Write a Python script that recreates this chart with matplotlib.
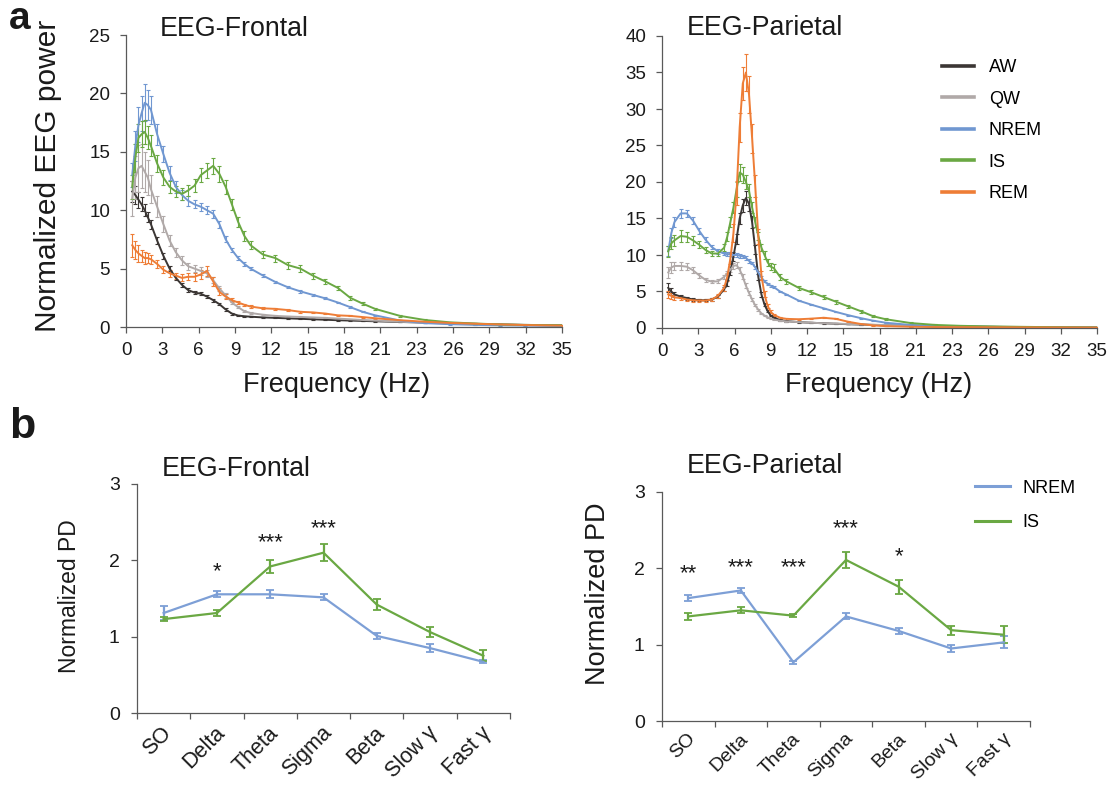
import numpy as np
import matplotlib
matplotlib.use("Agg")
import matplotlib.pyplot as plt
from matplotlib.lines import Line2D

plt.rcParams['font.family'] = ['Liberation Sans', 'DejaVu Sans']

# ---- panel a : normalized EEG power spectra ----
states = ['AW', 'QW', 'NREM', 'IS', 'REM']
state_colors = ['#3b3634', '#b0a9a8', '#7097d1', '#6aa843', '#ee7d36']
freq_tick_labels = ['0', '3', '6', '9', '12', '15', '18', '21', '23', '26', '29', '32', '35']

freq_frontal = [0.5, 0.75, 1, 1.25, 1.5, 1.75, 2,
                2.5, 3, 3.5, 4, 4.5, 5, 5.5, 6, 6.5, 7, 7.5, 8, 8.5, 9, 9.5, 10,
                11, 12, 13, 14, 15, 16, 17, 18, 19, 20,
                22, 24, 26, 28, 30, 32, 35]

frontal_aw = [11.6, 11.3, 10.9, 10.5, 10.0, 9.4, 8.8,
              7.4, 6.1, 5.0, 4.2, 3.6, 3.15, 2.95, 2.85, 2.6, 2.3, 1.95, 1.5, 1.15, 0.98, 0.92, 0.88,
              0.82, 0.78, 0.74, 0.7, 0.66, 0.62, 0.58, 0.55, 0.52, 0.49,
              0.43, 0.38, 0.32, 0.27, 0.22, 0.18, 0.14]
frontal_aw_err = [0.9, 0.8, 0.7, 0.6, 0.5, 0.45, 0.4,
                  0.3, 0.25, 0.2, 0.2, 0.15, 0.15, 0.15, 0.15, 0.15, 0.12, 0.1, 0.1, 0.08, 0.06, 0.06, 0.05,
                  0.05, 0.05, 0.05, 0.05, 0.04, 0.04, 0.04, 0.04, 0.03, 0.03,
                  0.03, 0.03, 0.02, 0.02, 0.02, 0.02, 0.02]

frontal_qw = [11.0, 12.8, 13.6, 13.8, 13.3, 12.8, 11.8,
              10.3, 8.8, 7.4, 6.4, 5.7, 5.2, 5.0, 4.8, 4.6, 4.0, 3.3, 2.7, 2.1, 1.7, 1.35, 1.2,
              1.05, 0.95, 0.9, 0.86, 0.82, 0.78, 0.72, 0.66, 0.6, 0.55,
              0.45, 0.36, 0.3, 0.24, 0.2, 0.16, 0.12]
frontal_qw_err = [1.5, 1.8, 2.0, 1.9, 1.7, 1.5, 1.2,
                  0.9, 0.7, 0.5, 0.4, 0.35, 0.3, 0.3, 0.35, 0.3, 0.25, 0.2, 0.2, 0.15, 0.1, 0.1, 0.08,
                  0.06, 0.05, 0.05, 0.05, 0.05, 0.04, 0.04, 0.04, 0.03, 0.03,
                  0.03, 0.03, 0.02, 0.02, 0.02, 0.02, 0.02]

frontal_nrem = [13.0, 15.5, 17.3, 18.3, 19.2, 19.0, 18.6,
                16.5, 14.8, 13.2, 12.0, 11.3, 10.8, 10.5, 10.3, 10.0, 9.7, 8.8, 7.5, 6.6, 5.9, 5.4, 5.0,
                4.4, 3.85, 3.4, 3.05, 2.75, 2.45, 2.1, 1.7, 1.3, 1.0,
                0.55, 0.33, 0.24, 0.18, 0.14, 0.12, 0.1]
frontal_nrem_err = [1.0, 1.3, 1.5, 1.5, 1.6, 1.3, 1.2,
                    0.9, 0.7, 0.6, 0.5, 0.45, 0.4, 0.35, 0.35, 0.35, 0.35, 0.3, 0.25, 0.2, 0.2, 0.15, 0.15,
                    0.12, 0.1, 0.1, 0.1, 0.08, 0.08, 0.07, 0.06, 0.05, 0.05,
                    0.04, 0.03, 0.03, 0.02, 0.02, 0.02, 0.02]

frontal_is = [12.0, 14.5, 16.2, 16.5, 16.7, 16.2, 15.5,
              14.0, 12.8, 12.0, 11.6, 11.4, 11.7, 12.1, 13.0, 13.4, 13.8, 13.1, 12.0, 10.5, 9.0, 7.8, 7.0,
              6.2, 5.9, 5.3, 5.0, 4.4, 3.9, 3.35, 2.5, 2.0, 1.55,
              0.95, 0.6, 0.4, 0.3, 0.22, 0.18, 0.15]
frontal_is_err = [1.0, 1.2, 1.2, 1.1, 1.0, 1.0, 0.9,
                  0.7, 0.6, 0.5, 0.5, 0.5, 0.5, 0.55, 0.6, 0.65, 0.7, 0.65, 0.6, 0.5, 0.45, 0.4, 0.35,
                  0.3, 0.3, 0.3, 0.3, 0.25, 0.2, 0.2, 0.15, 0.12, 0.1,
                  0.08, 0.06, 0.05, 0.04, 0.03, 0.03, 0.02]

frontal_rem = [7.0, 6.6, 6.3, 6.1, 5.9, 5.9, 5.8,
               5.4, 4.9, 4.6, 4.4, 4.2, 4.3, 4.3, 4.5, 4.8, 3.9, 3.0, 2.6, 2.3, 2.1, 1.9, 1.75,
               1.6, 1.55, 1.45, 1.3, 1.25, 1.15, 1.0, 0.95, 0.85, 0.75,
               0.58, 0.45, 0.35, 0.28, 0.22, 0.17, 0.12]
frontal_rem_err = [1.0, 0.8, 0.7, 0.5, 0.5, 0.4, 0.4,
                   0.35, 0.3, 0.3, 0.25, 0.3, 0.3, 0.35, 0.4, 0.45, 0.35, 0.3, 0.2, 0.15, 0.12, 0.1, 0.1,
                   0.08, 0.08, 0.07, 0.06, 0.06, 0.05, 0.05, 0.04, 0.04, 0.04,
                   0.03, 0.03, 0.02, 0.02, 0.02, 0.02, 0.02]

freq_parietal = [0.5, 0.75, 1, 1.5, 2, 2.5, 3, 3.5, 4, 4.5, 5,
                 5.25, 5.5, 5.75, 6, 6.25, 6.5, 6.75, 7, 7.25, 7.5, 7.75, 8, 8.25, 8.5, 8.75, 9,
                 9.5, 10, 11, 12, 13, 14, 15, 16, 17, 18, 20, 22, 24, 26, 28, 30, 32, 35]

parietal_aw = [5.5, 5.0, 4.6, 4.3, 4.1, 3.9, 3.8, 3.8, 3.9, 4.3, 5.3,
               6.2, 7.8, 9.8, 12.2, 15.0, 16.8, 17.8, 17.0, 14.5, 10.8, 7.0, 4.6, 3.2, 2.3, 1.7, 1.4,
               1.1, 0.95, 0.8, 0.72, 0.65, 0.58, 0.52, 0.47, 0.42, 0.38, 0.3, 0.24, 0.2, 0.16, 0.13, 0.11, 0.09, 0.07]
parietal_aw_err = [0.6, 0.5, 0.3, 0.2, 0.2, 0.15, 0.15, 0.15, 0.15, 0.2, 0.3,
                   0.4, 0.5, 0.6, 0.7, 0.8, 0.9, 1.0, 1.0, 0.8, 0.6, 0.4, 0.3, 0.2, 0.15, 0.12, 0.1,
                   0.08, 0.06, 0.05, 0.05, 0.04, 0.04, 0.03, 0.03, 0.03, 0.03, 0.02, 0.02, 0.02, 0.02, 0.02, 0.01, 0.01, 0.01]

parietal_qw = [7.6, 8.3, 8.5, 8.5, 8.4, 7.9, 7.2, 6.6, 6.35, 6.4, 7.0,
               7.5, 8.0, 8.5, 8.6, 8.0, 7.0, 5.8, 4.8, 3.9, 3.1, 2.5, 2.0, 1.7, 1.45, 1.3, 1.15,
               1.0, 0.9, 0.8, 0.72, 0.65, 0.6, 0.55, 0.5, 0.45, 0.4, 0.33, 0.27, 0.22, 0.18, 0.15, 0.12, 0.1, 0.08]
parietal_qw_err = [0.8, 0.7, 0.6, 0.5, 0.45, 0.4, 0.3, 0.25, 0.25, 0.25, 0.3,
                   0.3, 0.35, 0.4, 0.4, 0.4, 0.35, 0.3, 0.25, 0.2, 0.15, 0.12, 0.1, 0.08, 0.08, 0.06, 0.06,
                   0.05, 0.05, 0.04, 0.04, 0.03, 0.03, 0.03, 0.03, 0.02, 0.02, 0.02, 0.02, 0.02, 0.01, 0.01, 0.01, 0.01, 0.01]

parietal_nrem = [10.5, 13.0, 14.5, 15.7, 15.7, 14.7, 13.3, 12.1, 11.1, 10.5, 10.2,
                 10.1, 10.1, 10.0, 10.0, 9.9, 9.8, 9.6, 9.2, 8.9, 8.3, 7.6, 6.9, 6.4, 6.0, 5.8, 5.6,
                 5.0, 4.6, 3.75, 3.2, 2.7, 2.2, 1.75, 1.35, 1.0, 0.72, 0.42, 0.27, 0.2, 0.16, 0.13, 0.11, 0.09, 0.07]
parietal_nrem_err = [0.7, 0.7, 0.7, 0.6, 0.5, 0.45, 0.4, 0.35, 0.3, 0.3, 0.25,
                     0.25, 0.25, 0.25, 0.25, 0.25, 0.25, 0.25, 0.25, 0.2, 0.2, 0.2, 0.2, 0.15, 0.15, 0.15, 0.15,
                     0.12, 0.1, 0.1, 0.08, 0.08, 0.06, 0.05, 0.05, 0.04, 0.03, 0.02, 0.02, 0.02, 0.01, 0.01, 0.01, 0.01, 0.01]

parietal_is = [10.5, 11.6, 12.0, 12.6, 12.5, 12.0, 11.4, 10.7, 10.2, 10.2, 11.0,
               12.5, 14.5, 16.5, 19.0, 21.3, 21.0, 20.0, 18.8, 16.5, 14.5, 12.6, 11.0, 10.0, 9.0, 8.4, 8.2,
               7.0, 6.4, 5.5, 4.9, 4.25, 3.6, 2.95, 2.3, 1.6, 1.2, 0.68, 0.42, 0.3, 0.23, 0.18, 0.14, 0.11, 0.08]
parietal_is_err = [0.8, 0.8, 0.8, 0.8, 0.7, 0.6, 0.5, 0.45, 0.4, 0.4, 0.5,
                   0.6, 0.7, 0.8, 1.0, 1.2, 1.1, 1.0, 0.9, 0.8, 0.7, 0.6, 0.5, 0.5, 0.5, 0.5, 0.5,
                   0.4, 0.35, 0.3, 0.3, 0.25, 0.25, 0.2, 0.2, 0.15, 0.12, 0.1, 0.06, 0.04, 0.03, 0.02, 0.02, 0.02, 0.01]

parietal_rem = [4.6, 4.4, 4.2, 4.1, 3.9, 3.8, 3.75, 3.75, 3.9, 4.4, 5.5,
                7.0, 9.5, 13.0, 18.5, 27.5, 33.5, 35.0, 32.0, 26.0, 19.5, 12.5, 7.2, 4.6, 3.0, 2.2, 1.8,
                1.4, 1.25, 1.2, 1.28, 1.4, 1.25, 0.85, 0.55, 0.35, 0.25, 0.17, 0.13, 0.11, 0.1, 0.09, 0.08, 0.07, 0.06]
parietal_rem_err = [0.5, 0.4, 0.3, 0.2, 0.2, 0.2, 0.2, 0.2, 0.2, 0.3, 0.4,
                    0.6, 0.8, 1.2, 1.6, 2.0, 2.3, 2.6, 2.5, 2.0, 1.5, 1.0, 0.6, 0.4, 0.3, 0.2, 0.15,
                    0.1, 0.1, 0.08, 0.08, 0.08, 0.06, 0.05, 0.04, 0.03, 0.02, 0.02, 0.01, 0.01, 0.01, 0.01, 0.01, 0.01, 0.01]

# ---- panel b : normalized power density per band ----
bands = ['SO', 'Delta', 'Theta', 'Sigma', 'Beta', 'Slow γ', 'Fast γ']
pd_frontal_nrem = [1.31, 1.555, 1.555, 1.515, 1.01, 0.85, 0.67]
pd_frontal_nrem_err = [0.09, 0.04, 0.05, 0.04, 0.04, 0.05, 0.02]
pd_frontal_is = [1.23, 1.31, 1.92, 2.10, 1.42, 1.06, 0.75]
pd_frontal_is_err = [0.03, 0.04, 0.08, 0.11, 0.07, 0.07, 0.07]
frontal_stars = ['', '*', '***', '***', '', '', '']
frontal_star_y = [0, 1.78, 2.16, 2.34, 0, 0, 0]

pd_parietal_nrem = [1.61, 1.71, 0.77, 1.37, 1.18, 0.95, 1.03]
pd_parietal_nrem_err = [0.04, 0.03, 0.02, 0.04, 0.04, 0.05, 0.08]
pd_parietal_is = [1.37, 1.45, 1.38, 2.11, 1.76, 1.19, 1.13]
pd_parietal_is_err = [0.05, 0.04, 0.02, 0.10, 0.09, 0.06, 0.11]
parietal_stars = ['**', '***', '***', '***', '*', '', '']
parietal_star_y = [1.86, 1.94, 1.94, 2.45, 2.08, 0, 0]

W, H = 1112, 786
def fx(px):
    return px / W
def fy(py):
    return 1 - py / H

spine_col = '#595959'
txt_col = '#1a1a1a'

fig = plt.figure(figsize=(W / 100, H / 100), dpi=100)

def style_axes(ax):
    for s in ['top', 'right']:
        ax.spines[s].set_visible(False)
    for s in ['left', 'bottom']:
        ax.spines[s].set_color(spine_col)
        ax.spines[s].set_linewidth(0.9)
    ax.tick_params(which='major', direction='out', color=spine_col, width=0.9, length=4.5,
                   labelsize=13.5, labelcolor=txt_col)
    ax.tick_params(axis='y', pad=7)
    ax.tick_params(axis='x', pad=6)

ax_tl = fig.add_axes([fx(126), fy(327), fx(562) - fx(126), (327 - 35) / H])
ax_tr = fig.add_axes([fx(662), fy(328), fx(1097) - fx(662), (328 - 36) / H])
ax_bl = fig.add_axes([fx(137), fy(713), fx(510) - fx(137), (713 - 484) / H])
ax_br = fig.add_axes([fx(662), fy(721), fx(1030) - fx(662), (721 - 492) / H])

frontal_series = [(frontal_aw, frontal_aw_err), (frontal_qw, frontal_qw_err),
                  (frontal_nrem, frontal_nrem_err), (frontal_is, frontal_is_err),
                  (frontal_rem, frontal_rem_err)]
parietal_series = [(parietal_aw, parietal_aw_err), (parietal_qw, parietal_qw_err),
                   (parietal_nrem, parietal_nrem_err), (parietal_is, parietal_is_err),
                   (parietal_rem, parietal_rem_err)]

for ax, freq, series, ymax in [(ax_tl, freq_frontal, frontal_series, 25),
                               (ax_tr, freq_parietal, parietal_series, 40)]:
    for (vals, errs), c in zip(series, state_colors):
        ax.errorbar(freq, vals, yerr=errs, color=c, lw=1.4, elinewidth=0.8,
                    capsize=1.6, capthick=0.8)
    ax.set_xlim(0, 35)
    ax.set_ylim(0, ymax)
    ax.set_xticks(np.linspace(0, 35, len(freq_tick_labels)))
    ax.set_xticklabels(freq_tick_labels)
    ax.set_yticks(np.arange(0, ymax + 1, 5))
    style_axes(ax)

handles = [Line2D([], [], color=c, lw=2.6) for c in state_colors]
ax_tr.legend(handles, states, loc='upper left', bbox_to_anchor=(0.644, 0.92),
             frameon=False, fontsize=13, handlelength=1.75, handletextpad=0.83,
             labelspacing=0.8, borderpad=0, borderaxespad=0)

nrem_col_b = '#7d9fd6'
is_col_b = '#6aa843'
panel_b = [(ax_bl, pd_frontal_nrem, pd_frontal_nrem_err, pd_frontal_is, pd_frontal_is_err,
            frontal_stars, frontal_star_y, 15.5, 17),
           (ax_br, pd_parietal_nrem, pd_parietal_nrem_err, pd_parietal_is, pd_parietal_is_err,
            parietal_stars, parietal_star_y, 14, 15)]
for ax, nrem, nrem_e, is_, is_e, stars, star_y, lab_fs, lab_off in panel_b:
    x = np.arange(len(bands))
    ax.errorbar(x, nrem, yerr=nrem_e, color=nrem_col_b, lw=1.6, elinewidth=1.6,
                capsize=3.2, capthick=1.3, label='NREM')
    ax.errorbar(x, is_, yerr=is_e, color=is_col_b, lw=1.6, elinewidth=1.6,
                capsize=3.2, capthick=1.3, label='IS')
    ax.set_xlim(-0.5, len(bands) - 0.5)
    ax.set_ylim(0, 3)
    ax.set_yticks([0, 1, 2, 3])
    ax.set_xticks(np.arange(-0.5, len(bands), 1.0))
    ax.set_xticklabels([])
    style_axes(ax)
    ax.tick_params(axis='y', pad=8, labelsize=14)
    for i, lab in enumerate(bands):
        ax.text(i + 0.09, -lab_off / 229, lab, transform=ax.get_xaxis_transform(),
                rotation=45, rotation_mode='anchor', ha='right', va='center',
                fontsize=lab_fs, color=txt_col)
    for i, s in enumerate(stars):
        if s:
            ax.text(i, star_y[i], s, ha='center', va='baseline', fontsize=16, color=txt_col)

b_handles = [Line2D([], [], color=nrem_col_b, lw=2.2), Line2D([], [], color=is_col_b, lw=2.2)]
ax_br.legend(b_handles, ['NREM', 'IS'], loc='upper left', bbox_to_anchor=(0.85, 1.054),
             frameon=False, fontsize=13, handlelength=1.94, handletextpad=0.72,
             labelspacing=0.96, borderpad=0, borderaxespad=0)

# titles, axis labels, panel letters
fig.text(fx(160), fy(36), 'EEG-Frontal', fontsize=19.3, color=txt_col, ha='left', va='baseline')
fig.text(fx(687), fy(35), 'EEG-Parietal', fontsize=19.3, color=txt_col, ha='left', va='baseline')
fig.text(fx(162), fy(476), 'EEG-Frontal', fontsize=19.3, color=txt_col, ha='left', va='baseline')
fig.text(fx(687), fy(473), 'EEG-Parietal', fontsize=19.3, color=txt_col, ha='left', va='baseline')

fig.text(fx(337), fy(392), 'Frequency (Hz)', fontsize=19.5, color=txt_col, ha='center', va='baseline')
fig.text(fx(879), fy(392), 'Frequency (Hz)', fontsize=19.5, color=txt_col, ha='center', va='baseline')
fig.text(fx(48), fy(176), 'Normalized EEG power', fontsize=21.5, color=txt_col,
         rotation=90, ha='center', va='center')
fig.text(fx(70), fy(596), 'Normalized PD', fontsize=16.5, color=txt_col,
         rotation=90, ha='center', va='center')
fig.text(fx(598), fy(594), 'Normalized PD', fontsize=19.5, color=txt_col,
         rotation=90, ha='center', va='center')

fig.text(fx(9), fy(1), 'a', fontsize=28, fontweight='bold', color=txt_col, ha='left', va='top')
fig.text(fx(9), fy(438), 'b', fontsize=31, fontweight='bold', color=txt_col, ha='left', va='baseline')

fig.savefig('out.png', dpi=100)
